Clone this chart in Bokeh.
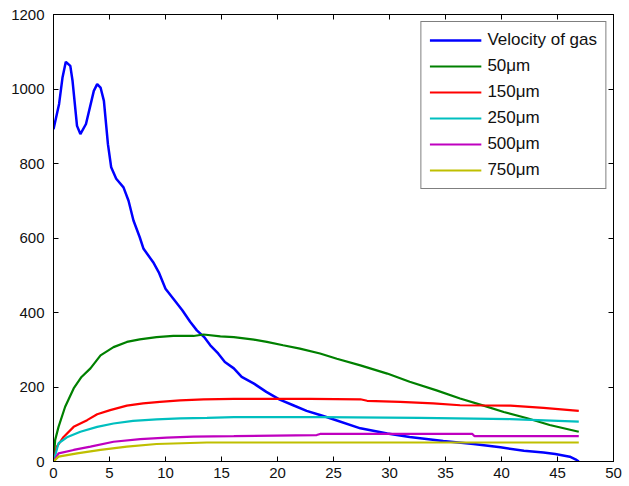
from bokeh.plotting import figure
from bokeh.models import Range1d, FixedTicker, LinearAxis, CustomJSTickFormatter, Legend, LegendItem
from bokeh.embed import file_html
from bokeh.resources import INLINE

# Velocity of gas
gas_x = [0, 0.5, 0.8, 1.1, 1.5, 1.7, 2.1, 2.4, 2.9, 3.6, 3.9, 4.2, 4.5, 4.86, 5.15, 5.6, 6.25, 6.7, 7.14, 7.7,
         8.04, 8.9, 9.4, 10.0, 10.7, 11.5, 12.2, 12.8, 13.45, 14.0, 14.7, 15.3, 16.1, 16.8, 17.9, 19.0, 20.2,
         21.4, 22.6, 23.8, 24.7, 27.4, 29.8, 31.8, 34.8, 37.5, 39.9, 42.0, 43.75, 44.8, 46.1, 46.6, 46.9]
gas_y = [892, 960, 1030, 1073, 1062, 1022, 901, 879, 906, 995, 1013, 1004, 968, 852, 790, 759, 736, 700, 647, 602,
         571, 535, 508, 464, 437, 406, 375, 352, 334, 312, 290, 267, 250, 227, 209, 187, 166,
         151, 136, 125, 116, 89, 75, 66, 55, 47, 38, 29, 24, 20, 13, 6, 0]

# 50 um
p50_x = [0, 0.15, 0.45, 1.04, 1.8, 2.5, 3.3, 4.2, 5.36, 6.55, 7.7, 9.2, 10.7, 12.5, 13.4, 14.9, 16.1, 17.9,
         19.05, 20.5, 22.0, 23.8, 25.3, 27.4, 29.8, 31.8, 34.2, 36.3, 38.4, 40.2, 42.3, 44.3, 46.9]
p50_y = [0, 58, 93, 147, 196, 227, 250, 285, 307, 321, 328, 334, 337, 337, 341, 336, 334, 327,
         321, 312, 303, 290, 276, 258, 236, 214, 191, 169, 150, 133, 116, 98, 80]

# 150 um
p150_x = [0, 0.3, 0.9, 1.8, 3.0, 3.9, 5.06, 6.55, 8.0, 9.5, 11.3, 13.4, 16.1, 22.9, 27.4, 28.0, 30.95,
          33.9, 36.3, 40.8, 43.75, 46.9]
p150_y = [0, 40, 66, 93, 111, 127, 138, 150, 156, 160, 164, 167, 168, 168, 167, 163, 160,
          156, 151, 150, 144, 136]

# 250 um
p250_x = [0, 0.45, 1.2, 2.4, 3.9, 5.36, 7.1, 9.2, 11.3, 13.7, 16.1, 23.8, 32.7, 40.8, 46.9]
p250_y = [0, 49, 65, 80, 93, 102, 109, 113, 116, 117, 119, 119, 117, 114, 107]

# 500 um
p500_x = [0, 0.45, 1.8, 3.3, 5.36, 7.74, 10.1, 12.5, 16.1, 23.5, 23.8, 37.4, 37.6, 46.9]
p500_y = [0, 22, 31, 40, 53, 60, 64, 67, 68, 71, 74, 74, 68, 68]

# 750 um
p750_x = [0, 0.45, 2.1, 4.2, 6.55, 9.2, 13.7, 23.8, 46.9]
p750_y = [0, 13, 22, 31, 40, 47, 51, 51, 51]

x_ticks = [0, 5, 10, 15, 20, 25, 30, 35, 40, 45, 50]
y_ticks = [0, 200, 400, 600, 800, 1000, 1200]

series = [
    ("Velocity of gas", gas_x, gas_y, "#0000FF"),
    ("50\u03bcm", p50_x, p50_y, "#008000"),
    ("150\u03bcm", p150_x, p150_y, "#FF0000"),
    ("250\u03bcm", p250_x, p250_y, "#00BFBF"),
    ("500\u03bcm", p500_x, p500_y, "#BF00BF"),
    ("750\u03bcm", p750_x, p750_y, "#BFBF00"),
]

FONT = "Liberation Sans"

p = figure(width=629, height=486, output_backend="svg", toolbar_location=None,
           x_range=Range1d(0, 50), y_range=Range1d(0, 1200),
           min_border_left=53, min_border_right=16, min_border_top=14, min_border_bottom=25)
p.background_fill_color = "white"
p.border_fill_color = "white"
p.grid.visible = False
p.outline_line_color = "black"
p.outline_line_width = 1

def style_axis(ax, labels=True, standoff=5):
    ax.axis_line_color = "black"
    ax.axis_line_width = 1
    ax.major_tick_in = 5
    ax.major_tick_out = 0
    ax.minor_tick_line_color = None
    ax.major_tick_line_color = "black"
    ax.major_label_text_font = FONT
    ax.major_label_text_font_size = "15px"
    ax.major_label_text_color = "#111111"
    ax.major_label_standoff = standoff
    if not labels:
        ax.formatter = CustomJSTickFormatter(code="return ''")
        ax.major_label_standoff = 0

p.xaxis.ticker = FixedTicker(ticks=x_ticks)
p.yaxis.ticker = FixedTicker(ticks=y_ticks)
style_axis(p.xaxis[0], standoff=6)
style_axis(p.yaxis[0], standoff=9)

top_ax = LinearAxis(ticker=FixedTicker(ticks=x_ticks))
style_axis(top_ax, labels=False)
p.add_layout(top_ax, "above")
right_ax = LinearAxis(ticker=FixedTicker(ticks=y_ticks))
style_axis(right_ax, labels=False)
p.add_layout(right_ax, "right")

items = []
for name, xs, ys, col in series:
    r = p.line(xs, ys, line_color=col, line_width=2.5 if name.startswith("V") else 2.2)
    items.append(LegendItem(label=name, renderers=[r]))

legend = Legend(items=items, location="top_right")
legend.margin = 7
legend.padding = 8
legend.spacing = 6
legend.glyph_width = 52
legend.glyph_height = 20
legend.label_standoff = 6
legend.label_text_font = FONT
legend.label_text_font_size = "17px"
legend.label_text_color = "#111111"
legend.border_line_color = "black"
legend.border_line_width = 1
legend.background_fill_color = "white"
legend.background_fill_alpha = 1
p.add_layout(legend, "center")

open("out.html", "w").write(file_html(p, INLINE))
